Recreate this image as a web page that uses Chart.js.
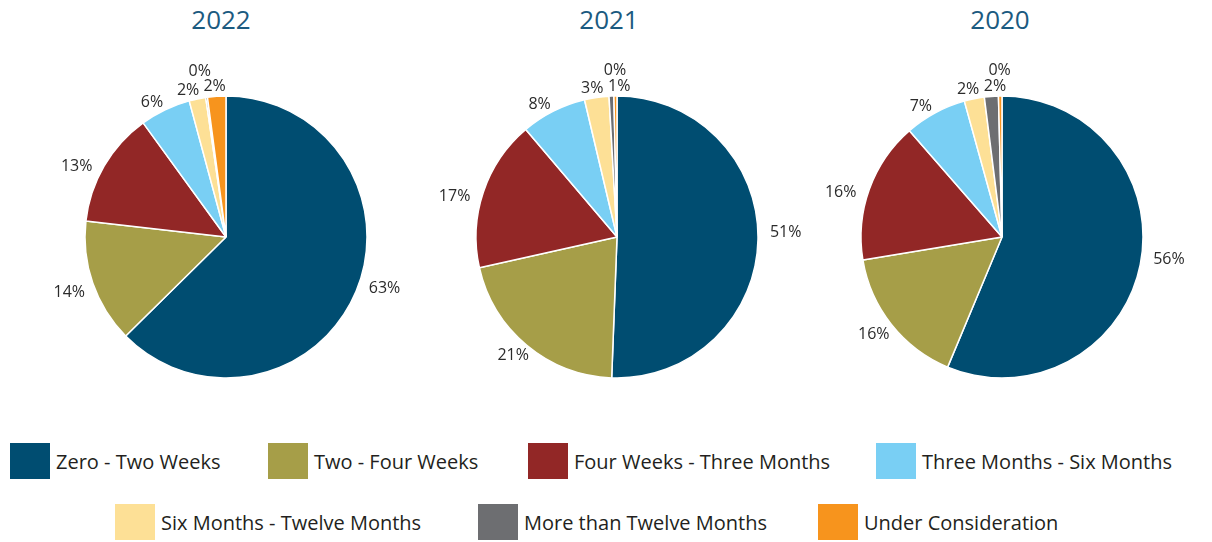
<!DOCTYPE html>
<html>
<head>
<meta charset="utf-8">
<script src="https://cdn.jsdelivr.net/npm/chart.js@4/dist/chart.umd.min.js"></script>
<style>
  html, body { margin: 0; padding: 0; background: #fff; }
  #wrap { position: relative; width: 1212px; height: 542px; overflow: hidden; font-family: "Open Sans", sans-serif; }
  .year { position: absolute; top: 0; width: 200px; text-align: center; font-size: 26px; color: #1b5a80; line-height: 38px; }
  canvas { position: absolute; top: 37px; }
  .leg { position: absolute; display: flex; align-items: center; font-size: 20px; letter-spacing: 0; color: #231f20; }
  .leg span.sw { display: inline-block; width: 40px; height: 36px; margin-right: 6px; }
</style>
</head>
<body>
<div id="wrap">
  <div class="year" style="left:121px">2022</div>
  <div class="year" style="left:509px">2021</div>
  <div class="year" style="left:900px">2020</div>
  <canvas id="c2022" width="400" height="400" style="left:26px"></canvas>
  <canvas id="c2021" width="400" height="400" style="left:417px"></canvas>
  <canvas id="c2020" width="400" height="400" style="left:802px"></canvas>
  <div id="legend"></div>
</div>
<script>
const categories = [
  "Zero - Two Weeks",
  "Two - Four Weeks",
  "Four Weeks - Three Months",
  "Three Months - Six Months",
  "Six Months - Twelve Months",
  "More than Twelve Months",
  "Under Consideration",
];

const sliceColors = [
  "#004d71", // dark blue
  "#a69e48", // olive
  "#922726", // red
  "#79cff4", // light blue
  "#fde096", // yellow
  "#6d6e71", // grey
  "#f7941d", // orange
];

// percent shares
const values2022 = [62.6, 14.2, 13.2, 5.8, 1.9, 0.2, 2.1];
const values2021 = [50.6, 20.9, 17.3, 7.5, 2.8, 0.55, 0.35];
const values2020 = [56.3, 16.1, 16.2, 7.1, 2.3, 1.6, 0.4];

// legend layout: [row, left]
const legendSpots = [
  [0, 10], [0, 268], [0, 528], [0, 876],
  [1, 115], [1, 478], [1, 818],
];

const boxesOverlap = (a, b) =>
  a.x1 < b.x2 && a.x2 > b.x1 && a.y1 < b.y2 && a.y2 > b.y1;

// draws "NN%" just outside each slice; the smallest slices give way when labels collide
const outsideLabels = {
  id: "outsideLabels",
  afterDatasetsDraw(chart) {
    const ctx = chart.ctx;
    const meta = chart.getDatasetMeta(0);
    const data = chart.data.datasets[0].data;
    const total = data.reduce((a, b) => a + b, 0);
    const placed = [];
    const h = 15;
    const gapX = 12;
    const gapY = 2;
    const pad = 2;

    ctx.save();
    ctx.font = "16px 'Open Sans', sans-serif";
    ctx.fillStyle = "#2b2b2b";
    ctx.textAlign = "center";
    ctx.textBaseline = "middle";

    const order = data.map((v, i) => i).sort((a, b) => data[b] - data[a]);
    order.forEach((i) => {
      const arc = meta.data[i];
      const p = arc.getProps(["x", "y", "startAngle", "endAngle", "outerRadius"], true);
      let mid = (p.startAngle + p.endAngle) / 2;
      mid -= 0.05 * Math.abs(Math.cos(mid));
      const ux = Math.cos(mid);
      const uy = Math.sin(mid);
      const text = Math.round((data[i] / total) * 100) + "%";
      const w = ctx.measureText(text).width;

      const baseX = p.x + (p.outerRadius + gapX + w / 2) * ux;
      const baseY = p.y + (p.outerRadius + gapY + h / 2) * uy;
      const boxAt = (cx, cy) => ({
        x1: cx - w / 2 - pad, x2: cx + w / 2 + pad,
        y1: cy - h / 2, y2: cy + h / 2, cx, cy,
      });
      const clear = (b) => !placed.some((o) => boxesOverlap(b, o));

      let box = boxAt(baseX, baseY);
      if (!clear(box)) {
        // slide along the rim either way or push outward, whichever frees it first
        const tx = -uy;
        const ty = ux;
        for (let d = 1; d < 60; d++) {
          const cands = [
            boxAt(baseX + tx * d, baseY + ty * d),
            boxAt(baseX - tx * d, baseY - ty * d),
            boxAt(baseX + ux * d, baseY + uy * d),
          ];
          const ok = cands.find(clear);
          if (ok) { box = ok; break; }
        }
      }
      placed.push(box);
      ctx.fillText(text, box.cx, box.cy);
    });
    ctx.restore();
  },
};

const makePie = (id, values) => {
  new Chart(document.getElementById(id), {
    type: "pie",
    data: {
      labels: categories,
      datasets: [
        {
          data: values,
          backgroundColor: sliceColors,
          borderColor: "#ffffff",
          borderWidth: 1.5,
        },
      ],
    },
    options: {
      responsive: false,
      animation: false,
      radius: 141,
      layout: { padding: 0 },
      plugins: {
        legend: { display: false },
        tooltip: { enabled: false },
      },
    },
    plugins: [outsideLabels],
  });
};

makePie("c2022", values2022);
makePie("c2021", values2021);
makePie("c2020", values2020);

// legend below the pies
const legend = document.getElementById("legend");
categories.forEach((name, i) => {
  const [row, left] = legendSpots[i];
  const item = document.createElement("div");
  item.className = "leg";
  item.style.left = left + "px";
  item.style.top = (row === 0 ? 443 : 504) + "px";
  item.innerHTML = `<span class="sw" style="background:${sliceColors[i]}"></span>${name}`;
  legend.appendChild(item);
});
</script>
</body>
</html>
